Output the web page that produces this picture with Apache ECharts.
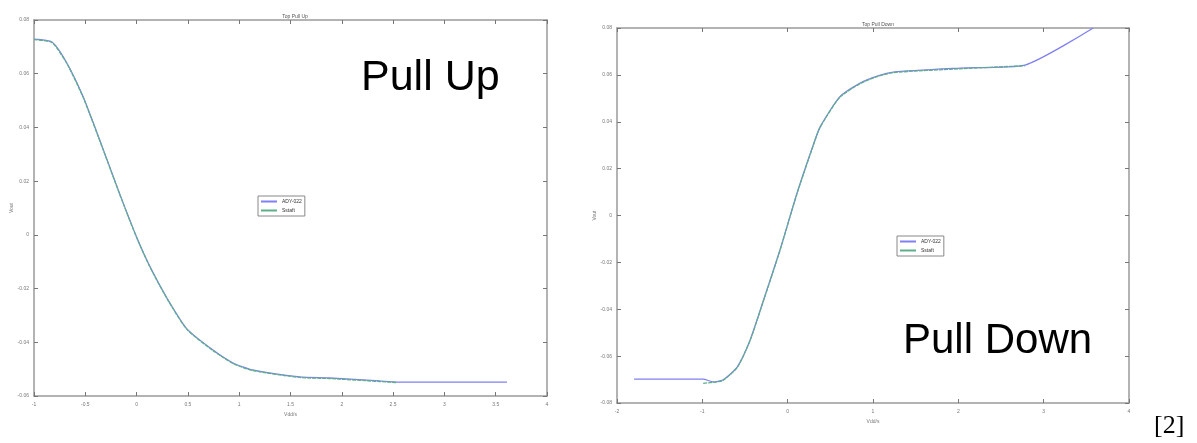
<!DOCTYPE html>
<html>
<head>
<meta charset="utf-8">
<script src="https://cdn.jsdelivr.net/npm/echarts@6/dist/echarts.min.js"></script>
<style>html,body{margin:0;padding:0;background:#fff;}#c{width:1197px;height:443px;}</style>
</head>
<body>
<div id="c"></div>
<script>
// ---- data ----
const seriesNames = ['ADY-022', 'Sstaft'];
const upXTicks = [-1, -0.5, 0, 0.5, 1, 1.5, 2, 2.5, 3, 3.5, 4];
const upYTicks = [-0.06, -0.04, -0.02, 0, 0.02, 0.04, 0.06, 0.08];
const downXTicks = [-2, -1, 0, 1, 2, 3, 4];
const downYTicks = [-0.08, -0.06, -0.04, -0.02, 0, 0.02, 0.04, 0.06, 0.08];

const upBlueX = [-1, -0.825, -0.68, -0.52, -0.33, -0.16, 0.0, 0.13, 0.30, 0.49, 0.745, 0.94, 1.13, 1.59, 1.88, 2.37, 2.54, 3.0, 3.61];
const upBlueY = [0.0729, 0.0718, 0.064, 0.0513, 0.0323, 0.0148, -0.0008, -0.0118, -0.0238, -0.0350, -0.0429, -0.0477, -0.0503, -0.0529, -0.0533, -0.0544, -0.0548, -0.0548, -0.0548];
const upGreenX = [-1, -0.825, -0.68, -0.52, -0.33, -0.16, 0.0, 0.13, 0.30, 0.49, 0.745, 0.94, 1.13, 1.59, 1.88, 2.37, 2.54];
const upGreenY = [0.0727, 0.0716, 0.0638, 0.0511, 0.0321, 0.0146, -0.0010, -0.0120, -0.0240, -0.0352, -0.0431, -0.0479, -0.0505, -0.0531, -0.0535, -0.0546, -0.0550];

const downBlueX = [-1.80, -0.99, -0.875, -0.76, -0.59, -0.44, -0.29, -0.09, 0.11, 0.30, 0.38, 0.61, 0.85, 1.05, 1.24, 2.02, 2.78, 3.58];
const downBlueY = [-0.0698, -0.0698, -0.0710, -0.0702, -0.0646, -0.0531, -0.0369, -0.0147, 0.0096, 0.0301, 0.0378, 0.0506, 0.0565, 0.0595, 0.0612, 0.0629, 0.0642, 0.0800];
const downGreenX = [-0.99, -0.875, -0.76, -0.59, -0.44, -0.29, -0.09, 0.11, 0.30, 0.38, 0.61, 0.85, 1.05, 1.24, 2.02, 2.78];
const downGreenY = [-0.0716, -0.0712, -0.0704, -0.0648, -0.0533, -0.0371, -0.0149, 0.0094, 0.0299, 0.0376, 0.0504, 0.0563, 0.0593, 0.0610, 0.0626, 0.0639];

// ---- chart ----
const pairs = (xs, ys) => xs.map((x, i) => [x, ys[i]]);
const axisCol = '#9a9a9a';
const labelStyle = {fontSize: 5, color: '#777', fontFamily: 'Liberation Sans'};
function fmt(v) { return String(Math.round(v * 100) / 100); }
const axLine = {onZero: false, lineStyle: {color: axisCol, width: 1.5}};
const axTick = {inside: true, length: 4, lineStyle: {color: '#777'}};

function xAxes(grid, ticks, name) {
  const min = ticks[0], max = ticks[ticks.length - 1], interval = ticks[1] - ticks[0];
  return [
    {type: 'value', gridIndex: grid, min, max, interval, position: 'bottom',
     name, nameLocation: 'middle', nameGap: 12, nameTextStyle: labelStyle,
     axisLine: axLine, axisTick: axTick,
     axisLabel: Object.assign({margin: 6, formatter: fmt}, labelStyle), splitLine: {show: false}},
    {type: 'value', gridIndex: grid, min, max, interval, position: 'top',
     axisLine: axLine, axisTick: axTick,
     axisLabel: {show: false}, splitLine: {show: false}}
  ];
}
function yAxes(grid, ticks, name) {
  const min = ticks[0], max = ticks[ticks.length - 1], interval = Math.round((ticks[1] - ticks[0]) * 100) / 100;
  return [
    {type: 'value', gridIndex: grid, min, max, interval, position: 'left',
     name, nameLocation: 'middle', nameGap: 20, nameTextStyle: labelStyle,
     axisLine: axLine, axisTick: axTick,
     axisLabel: Object.assign({margin: 5, formatter: fmt}, labelStyle), splitLine: {show: false}},
    {type: 'value', gridIndex: grid, min, max, interval, position: 'right',
     axisLine: axLine, axisTick: axTick,
     axisLabel: {show: false}, splitLine: {show: false}}
  ];
}

const blue = '#8080f0', green = '#5fae8a';
function line(name, xi, yi, data, color, dashed) {
  return {type: 'line', name, xAxisIndex: xi, yAxisIndex: yi, data, showSymbol: false, smooth: 0.2,
    clip: true, lineStyle: {color, width: 1.3, type: dashed ? [4, 1] : 'solid'}, itemStyle: {color}, z: dashed ? 3 : 2};
}

const chart = echarts.init(document.getElementById('c'), null, {renderer: 'canvas'});
chart.setOption({
  animation: false,
  backgroundColor: '#fff',
  title: [
    {text: 'Top Pull Up', left: 290, top: 9, textAlign: 'center', textStyle: {fontSize: 5, fontWeight: 'normal', color: '#555'}},
    {text: 'Top Pull Down', left: 873, top: 17, textAlign: 'center', textStyle: {fontSize: 5, fontWeight: 'normal', color: '#555'}}
  ],
  grid: [
    {left: 34, top: 20, width: 513, height: 376},
    {left: 617, top: 28, width: 512, height: 375}
  ],
  xAxis: [...xAxes(0, upXTicks, 'Vdd/s'), ...xAxes(1, downXTicks, 'Vdd/s')],
  yAxis: [...yAxes(0, upYTicks, 'Vout'), ...yAxes(1, downYTicks, 'Vout')],
  legend: [
    {left: 258, top: 196, orient: 'vertical', itemWidth: 16, itemHeight: 2, itemGap: 4, padding: [3, 3],
     borderColor: '#888', borderWidth: 1, backgroundColor: '#fff', icon: 'rect',
     textStyle: {fontSize: 5, color: '#333'}, data: seriesNames},
    {left: 897, top: 236, orient: 'vertical', itemWidth: 16, itemHeight: 2, itemGap: 4, padding: [3, 3],
     borderColor: '#888', borderWidth: 1, backgroundColor: '#fff', icon: 'rect',
     textStyle: {fontSize: 5, color: '#333'}, data: seriesNames}
  ],
  series: [
    line(seriesNames[0], 0, 0, pairs(upBlueX, upBlueY), blue, false),
    line(seriesNames[1], 0, 0, pairs(upGreenX, upGreenY), green, true),
    line(seriesNames[0], 2, 2, pairs(downBlueX, downBlueY), blue, false),
    line(seriesNames[1], 2, 2, pairs(downGreenX, downGreenY), green, true)
  ],
  graphic: [
    {type: 'text', left: 361, top: 57, style: {text: 'Pull Up', fontSize: 43, fontFamily: 'Liberation Sans', fill: '#000'}},
    {type: 'text', left: 903, top: 320, style: {text: 'Pull Down', fontSize: 42, fontFamily: 'Liberation Sans', fill: '#000'}},
    {type: 'text', left: 1154, top: 413, style: {text: '[2]', fontSize: 26, fontFamily: 'Liberation Serif', fill: '#000'}}
  ]
});
</script>
</body>
</html>
